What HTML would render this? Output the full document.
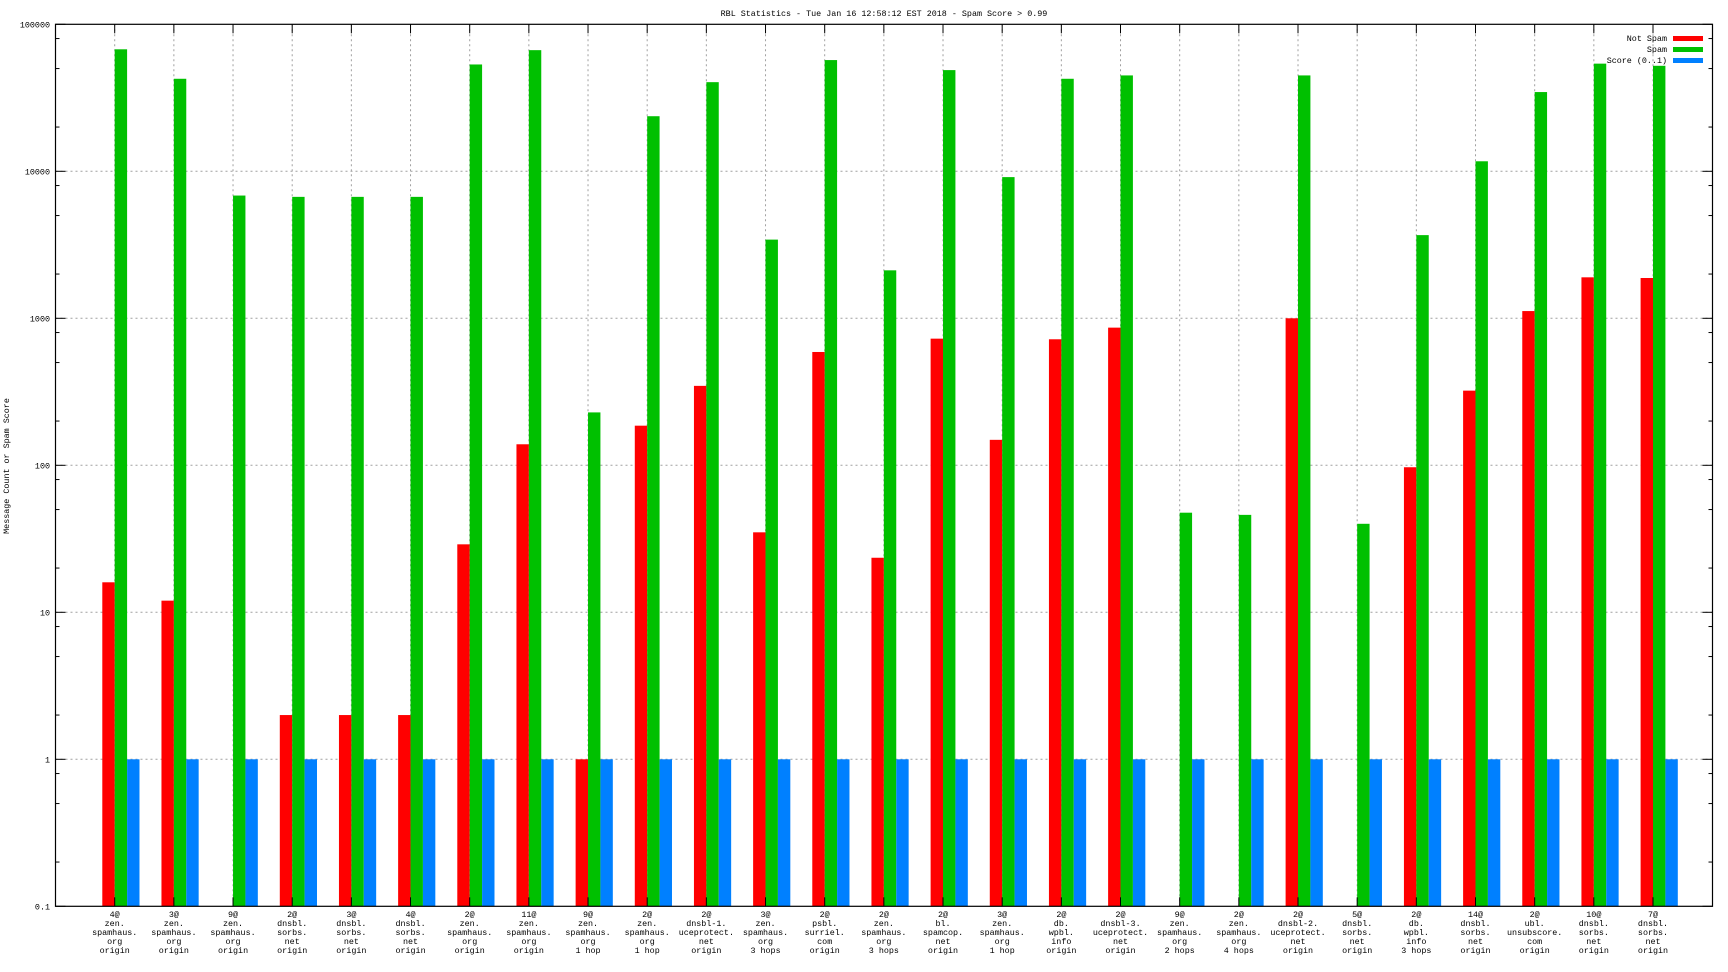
<!DOCTYPE html>
<html><head><meta charset="utf-8"><title>RBL Statistics</title>
<style>
html,body{margin:0;padding:0;background:#fff;}
svg{display:block;}
text{font-family:"Liberation Mono","DejaVu Sans Mono",monospace;font-size:8.4px;fill:#000;}
</style></head>
<body>
<svg id="chart" width="1728" height="972" viewBox="0 0 1728 972" xmlns="http://www.w3.org/2000/svg">
<text x="884" y="16" text-anchor="middle">RBL Statistics - Tue Jan 16 12:58:12 EST 2018 - Spam Score &gt; 0.99</text>
<text transform="translate(9,466) rotate(-90)" text-anchor="middle">Message Count or Spam Score</text>
<g id="grid"></g>
<g id="bars"></g>
<g id="axes"></g>
<g id="xlabels"></g>
<g id="legend">
  <text x="1667" y="41" text-anchor="end">Not Spam</text>
  <rect x="1673" y="36" width="30" height="5" fill="#ff0000"/>
  <text x="1667" y="52" text-anchor="end">Spam</text>
  <rect x="1673" y="47" width="30" height="5" fill="#00c000"/>
  <text x="1667" y="63" text-anchor="end">Score (0..1)</text>
  <rect x="1673" y="58" width="30" height="5" fill="#0080ff"/>
</g>
</svg>
<script>
const categories = [
 ["4@","zen.","spamhaus.","org","origin"],
 ["3@","zen.","spamhaus.","org","origin"],
 ["9@","zen.","spamhaus.","org","origin"],
 ["2@","dnsbl.","sorbs.","net","origin"],
 ["3@","dnsbl.","sorbs.","net","origin"],
 ["4@","dnsbl.","sorbs.","net","origin"],
 ["2@","zen.","spamhaus.","org","origin"],
 ["11@","zen.","spamhaus.","org","origin"],
 ["9@","zen.","spamhaus.","org","1 hop"],
 ["2@","zen.","spamhaus.","org","1 hop"],
 ["2@","dnsbl-1.","uceprotect.","net","origin"],
 ["3@","zen.","spamhaus.","org","3 hops"],
 ["2@","psbl.","surriel.","com","origin"],
 ["2@","zen.","spamhaus.","org","3 hops"],
 ["2@","bl.","spamcop.","net","origin"],
 ["3@","zen.","spamhaus.","org","1 hop"],
 ["2@","db.","wpbl.","info","origin"],
 ["2@","dnsbl-3.","uceprotect.","net","origin"],
 ["9@","zen.","spamhaus.","org","2 hops"],
 ["2@","zen.","spamhaus.","org","4 hops"],
 ["2@","dnsbl-2.","uceprotect.","net","origin"],
 ["5@","dnsbl.","sorbs.","net","origin"],
 ["2@","db.","wpbl.","info","3 hops"],
 ["14@","dnsbl.","sorbs.","net","origin"],
 ["2@","ubl.","unsubscore.","com","origin"],
 ["10@","dnsbl.","sorbs.","net","origin"],
 ["7@","dnsbl.","sorbs.","net","origin"]
];
const notSpam = [16,12,null,2,2,2,29,139,1,186,347,35,590,23.5,727,149,720,864,null,null,1000,null,97,322,1120,1900,1880];
const spam = [67600,42600,6840,6700,6700,6700,53300,66700,229,23700,40400,3430,57100,2120,48800,9130,42600,44900,47.6,46,44900,40,3680,11700,34600,54000,52200];
const score = [1,1,1,1,1,1,1,1,1,1,1,1,1,1,1,1,1,1,1,1,1,1,1,1,1,1,1];
const yTickLabels = ["0.1","1","10","100","1000","10000","100000"];
const yTickValues = [0.1,1,10,100,1000,10000,100000];

const NS="http://www.w3.org/2000/svg";
const L=55.5, R=1712.5, T=24.3, B=906.3;
const firstX=114.7, step=(1653-114.7)/26, barW=12.4;
function xPos(i){return firstX+i*step;}
function yPos(v){return B-(Math.log10(v)+1)*(B-T)/6;}
function mk(tag,attrs,parent){const e=document.createElementNS(NS,tag);for(const k in attrs)e.setAttribute(k,attrs[k]);parent.appendChild(e);return e;}

const grid=document.getElementById('grid'), bars=document.getElementById('bars'), axes=document.getElementById('axes'), xl=document.getElementById('xlabels');

// horizontal grid + y ticks
yTickValues.forEach((v,k)=>{
  const y=yPos(v);
  if(k>0&&k<yTickValues.length-1){
    const g=mk('line',{x1:L,x2:R,y1:y,y2:y,stroke:'#a0a0a0','stroke-width':1,'stroke-dasharray':'2,3'},grid);
    
    
  }
  const t=mk('text',{x:50,y:y+3,'text-anchor':'end'},axes);
  t.textContent=yTickLabels[k];
  
  
  [[L,L+10],[R,R-10]].forEach(p=>{
    const m=mk('line',{x1:p[0],x2:p[1],y1:y,y2:y,stroke:'#000','stroke-width':1},axes);
    
    
  });
  if(k<yTickValues.length-1){
    [2,5,8].forEach(mu=>{
      const ym=yPos(v*mu);
      [[L,L+4],[R,R-4]].forEach(p=>{
        const m=mk('line',{x1:p[0],x2:p[1],y1:ym,y2:ym,stroke:'#000','stroke-width':1},axes);
        
        
      });
    });
  }
});

// vertical grid, bars, labels
categories.forEach((c,i)=>{
  const x=xPos(i);
  const g=mk('line',{x1:x,x2:x,y1:T,y2:B,stroke:'#a0a0a0','stroke-width':1,'stroke-dasharray':'2,3'},grid);
  
  
  [[T,T+9],[B,B-9]].forEach(p=>{
    const m=mk('line',{x1:x,x2:x,y1:p[0],y2:p[1],stroke:'#000','stroke-width':1},axes);
    
    
  });
  const series=[[notSpam,-barW,'#ff0000','bar-not-spam'],[spam,0,'#00c000','bar-spam'],[score,barW,'#0080ff','bar-score']];
  series.forEach(s=>{
    const v=s[0][i];
    if(v==null||v<=0)return;
    const y=yPos(v);
    const r=mk('rect',{x:x+s[1],y:y,width:barW,height:B-y,fill:s[2]},bars);
    
    
  });
  const t=mk('text',{x:x,y:917,'text-anchor':'middle'},xl);
  
  
  c.forEach((line,j)=>{
    const ts=mk('tspan',{x:x,y:917+j*9},t);
    ts.textContent=line;
  });
});

// border
const bd=mk('rect',{x:L,y:T,width:R-L,height:B-T,fill:'none',stroke:'#000','stroke-width':1.2},axes);


</script>
</body></html>
